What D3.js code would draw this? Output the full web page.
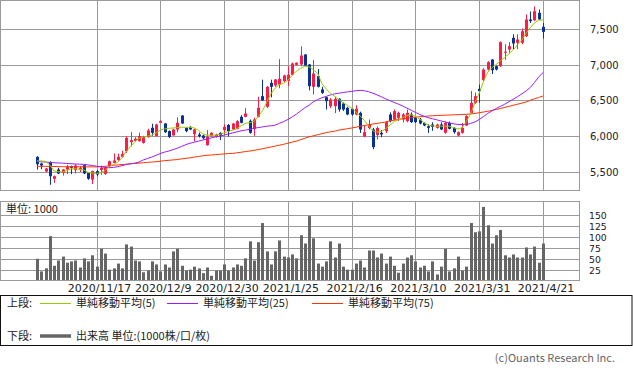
<!DOCTYPE html>
<html>
<head>
<meta charset="utf-8">
<script src="https://cdn.jsdelivr.net/npm/d3@7"></script>
<style>
body { margin: 0; background: #fff; }
svg { display: block; font-family: "Noto Sans CJK JP", "DejaVu Sans", sans-serif; }
.num { font-family: "DejaVu Sans", sans-serif; }
</style>
</head>
<body>
<div id="chart"></div>
<script>
// x axis labels (trading day index of each label)
const tickIdx = [14, 29, 44, 59, 74, 89, 104, 119]
const tickLabels = ["2020/11/17", "2020/12/9", "2020/12/30", "2021/1/25", "2021/2/16", "2021/3/10", "2021/3/31", "2021/4/21"]
const priceTicks = [5500, 6000, 6500, 7000, 7500]
const volTicks = [25, 50, 75, 100, 125, 150]

// daily candles, 2020/10/27 .. 2021/4/21
const opens = [5713,5620,5507,5638,5404,5535,5488,5535,5582,5526,5535,5596,5488,5394,5512,5527,5474,5582,5629,5667,
    5714,5793,5920,5939,5934,5911,5990,6123,6005,6193,6183,6076,6015,6099,6296,6122,6136,6033,6028,6014,
    5878,6005,6000,6052,6090,6164,6099,6108,6277,6277,6221,6108,6277,6568,6418,6756,6718,6732,6779,6784,
    6869,7009,7014,7155,7014,6700,6850,6662,6554,6427,6427,6530,6465,6404,6390,6310,6333,6000,6120,6099,
    6020,6052,6075,6310,6239,6263,6239,6216,6310,6263,6239,6192,6145,6169,6122,6169,6052,6192,6122,6014,
    6052,6155,6333,6474,6671,6793,6944,7084,6990,6990,7180,7225,7390,7320,7320,7413,7648,7638,7742,7545]
const highs = [5722,5630,5555,5652,5450,5560,5540,5600,5590,5610,5585,5610,5490,5520,5530,5590,5570,5660,5760,5760,
    5800,6005,6060,5990,6055,6010,6110,6180,6180,6230,6190,6085,6110,6270,6300,6130,6145,6110,6055,6020,
    6090,6060,6040,6060,6170,6175,6190,6230,6300,6400,6240,6265,6560,6800,6710,6800,6810,7090,6870,6990,
    7040,7045,7270,7160,7020,7080,6950,6700,6560,6540,6560,6540,6480,6420,6400,6440,6350,6150,6240,6120,
    6140,6090,6215,6340,6380,6350,6330,6380,6340,6280,6260,6200,6170,6200,6180,6200,6210,6210,6130,6070,
    6190,6300,6640,6620,6732,6960,7060,7090,7000,7340,7300,7330,7440,7440,7520,7720,7760,7830,7790,7600]
const lows = [5535,5540,5495,5320,5347,5470,5450,5470,5470,5480,5500,5470,5390,5330,5440,5460,5460,5560,5625,5660,
    5700,5770,5860,5930,5930,5900,5985,6010,6000,6190,6050,5980,6010,6060,6180,6060,6090,5930,5985,5960,
    5870,6000,5985,5950,6030,6000,6090,6100,6185,6270,6040,6010,6270,6500,6400,6550,6700,6680,6770,6710,
    6860,7000,6990,6990,6650,6590,6690,6600,6380,6400,6330,6350,6360,6300,6290,6300,6050,5990,6100,5820,
    5960,5990,6050,6200,6230,6220,6200,6200,6190,6190,6170,6145,6050,6080,6110,6090,6040,6100,6040,6000,
    6040,6150,6320,6460,6474,6780,6930,6880,6930,6980,7080,7180,7230,7230,7300,7400,7600,7625,7640,7380]
const closes = [5610,5592,5549,5441,5441,5479,5535,5573,5560,5592,5560,5479,5404,5512,5465,5560,5559,5652,5662,5714,
    5756,5981,5948,5967,6005,5995,6085,6052,6170,6216,6061,5995,6099,6193,6183,6075,6099,6099,6005,5976,
    5995,6052,6028,6014,6136,6075,6183,6216,6193,6324,6052,6240,6404,6507,6700,6700,6803,6812,6859,6869,
    7028,7038,7141,7000,6709,6887,6700,6615,6498,6521,6530,6380,6380,6310,6310,6390,6099,6061,6170,5850,
    6120,6030,6202,6216,6357,6333,6310,6333,6202,6202,6183,6155,6122,6136,6169,6099,6192,6108,6061,6061,
    6122,6286,6474,6568,6639,6943,7047,6934,6944,7328,7195,7272,7310,7366,7483,7648,7625,7765,7648,7474]

// moving averages as drawn
const ma5 = [5657,5655,5650,5600,5515,5505,5500,5520,5545,5545,5540,5530,5495,5485,5480,5490,5520,5580,5605,5640,
    5700,5790,5860,5925,5975,5990,6005,6020,6050,6090,6105,6115,6120,6125,6130,6130,6130,6120,6085,6035,
    6020,6015,6020,6030,6050,6070,6090,6110,6150,6185,6195,6210,6280,6360,6480,6600,6680,6730,6750,6790,
    6860,6920,6960,6990,6980,6940,6890,6745,6670,6610,6565,6520,6475,6440,6400,6345,6290,6225,6150,6080,
    6062,6070,6110,6160,6210,6235,6265,6295,6305,6285,6245,6195,6160,6150,6145,6145,6145,6145,6125,6105,
    6125,6215,6320,6480,6610,6775,6905,6970,7015,7065,7115,7165,7220,7290,7355,7455,7530,7600,7640,7640]
const ma25 = [5648,5645,5640,5635,5630,5628,5625,5620,5617,5613,5610,5607,5600,5590,5582,5575,5565,5560,5565,5575,
    5590,5605,5615,5625,5640,5670,5690,5710,5735,5760,5780,5795,5815,5835,5860,5885,5905,5920,5935,5950,
    5965,5980,5995,6005,6020,6035,6050,6065,6080,6090,6100,6115,6125,6135,6145,6150,6160,6185,6210,6240,
    6275,6315,6360,6405,6440,6490,6520,6545,6565,6585,6600,6610,6620,6628,6635,6645,6650,6645,6630,6610,
    6585,6560,6530,6505,6480,6455,6430,6400,6370,6340,6310,6285,6265,6250,6235,6220,6205,6190,6178,6170,
    6168,6168,6185,6205,6240,6280,6325,6360,6395,6425,6455,6490,6525,6560,6600,6640,6690,6760,6840,6900]
const ma75 = [5580,5580,5580,5578,5577,5576,5575,5575,5574,5574,5573,5573,5572,5572,5572,5575,5580,5585,5595,5600,
    5605,5610,5617,5620,5625,5630,5635,5640,5645,5652,5660,5665,5670,5675,5685,5692,5700,5710,5720,5728,
    5735,5740,5745,5750,5755,5760,5762,5770,5778,5788,5795,5805,5815,5828,5840,5852,5865,5877,5890,5905,
    5920,5935,5955,5975,5995,6010,6025,6040,6055,6065,6075,6090,6100,6110,6120,6130,6145,6155,6165,6175,
    6185,6195,6205,6220,6230,6240,6250,6258,6265,6272,6278,6283,6288,6292,6295,6298,6300,6303,6305,6308,
    6310,6312,6318,6325,6335,6345,6355,6368,6380,6395,6410,6425,6440,6455,6470,6485,6510,6530,6550,6570]

// volume, 1000 shares
const volumes = [51,22,29,103,35,47,56,42,45,47,31,52,45,59,33,74,63,26,29,40,
    29,84,79,47,45,20,24,45,38,22,38,31,68,74,35,24,26,33,29,18,
    31,12,24,24,38,24,31,38,35,52,91,47,89,133,68,38,68,93,56,54,
    61,52,105,86,149,98,40,33,45,91,54,86,33,26,26,40,47,31,70,70,
    54,63,40,56,35,19,40,54,59,45,31,35,22,45,15,33,74,22,29,56,
    24,33,133,112,114,170,128,86,105,117,59,54,61,54,54,77,61,79,42,86]

const width = 633, height = 374
const panelRight = 579
const upColor = "#ff1a47", downColor = "#0a3294", gridColor = "#9a9a9a"

let svg = d3.select("#chart")
    .append("svg")
    .attr("width", width)
    .attr("height", height)

let x = d3.scaleLinear().domain([0, 119]).range([37, 543])
let y = d3.scaleLinear().domain([5246.5, 7922.5]).range([190, 0])
let yVol = d3.scaleLinear().domain([0, 182]).range([281, 201.7])

let crisp = v => Math.floor(v) + 0.5
let col = i => Math.round(x(i))

// ---- upper panel: candles + moving averages
let upper = svg.append("g")

upper.selectAll(".hgrid")
    .data(priceTicks)
    .enter()
    .append("line")
    .attr("x1", 0).attr("x2", panelRight)
    .attr("y1", d => crisp(y(d))).attr("y2", d => crisp(y(d)))
    .attr("stroke", gridColor)

upper.selectAll(".vgrid")
    .data(tickIdx)
    .enter()
    .append("line")
    .attr("x1", d => col(d) + 0.5).attr("x2", d => col(d) + 0.5)
    .attr("y1", 0).attr("y2", 190)
    .attr("stroke", gridColor)

upper.append("rect")
    .attr("x", 0.5).attr("y", 0.5)
    .attr("width", panelRight).attr("height", 190)
    .attr("fill", "none")
    .attr("stroke", gridColor)

upper.selectAll(".plabel")
    .data(priceTicks)
    .enter()
    .append("text")
    .attr("class", "num")
    .attr("x", 590)
    .attr("y", d => y(d) + 3.5)
    .style("font-size", "10px")
    .attr("fill", "#222")
    .text(d => d3.format(",")(d))

let candles = d3.range(opens.length).map(i => ({
    i: i, o: opens[i], h: highs[i], l: lows[i], c: closes[i]
}))

let candleColor = d => d.c >= d.o ? upColor : downColor

upper.selectAll(".wick")
    .data(candles)
    .enter()
    .append("line")
    .attr("x1", d => col(d.i) + 0.5).attr("x2", d => col(d.i) + 0.5)
    .attr("y1", d => y(d.h)).attr("y2", d => y(d.l))
    .attr("stroke", candleColor)

upper.selectAll(".body")
    .data(candles)
    .enter()
    .append("rect")
    .attr("x", d => col(d.i) - 1)
    .attr("width", 3)
    .attr("y", d => y(Math.max(d.o, d.c)))
    .attr("height", d => Math.max(1, y(Math.min(d.o, d.c)) - y(Math.max(d.o, d.c))))
    .attr("fill", candleColor)

let maLine = d3.line()
    .x((d, i) => x(i))
    .y(d => y(d))

let maSeries = [
    { values: ma75, color: "#ff3300" },
    { values: ma25, color: "#9a1cff" },
    { values: ma5, color: "#99cc00" }
]

upper.selectAll(".ma")
    .data(maSeries)
    .enter()
    .append("path")
    .attr("d", d => maLine(d.values))
    .attr("fill", "none")
    .attr("stroke", d => d.color)
    .attr("stroke-width", 1)

// ---- volume panel
let lower = svg.append("g")

lower.selectAll(".hgrid")
    .data(volTicks)
    .enter()
    .append("line")
    .attr("x1", 0).attr("x2", panelRight)
    .attr("y1", d => crisp(yVol(d))).attr("y2", d => crisp(yVol(d)))
    .attr("stroke", gridColor)

lower.selectAll(".vgrid")
    .data(tickIdx)
    .enter()
    .append("line")
    .attr("x1", d => col(d) + 0.5).attr("x2", d => col(d) + 0.5)
    .attr("y1", 201.5).attr("y2", 280)
    .attr("stroke", gridColor)

lower.selectAll(".bar")
    .data(volumes)
    .enter()
    .append("rect")
    .attr("x", (d, i) => col(i) - 1)
    .attr("width", 3)
    .attr("y", d => yVol(d))
    .attr("height", d => 280 - yVol(d))
    .attr("fill", "#666")

lower.append("rect")
    .attr("x", 0.5).attr("y", 201.5)
    .attr("width", panelRight).attr("height", 79)
    .attr("fill", "none")
    .attr("stroke", gridColor)

lower.selectAll(".vlabel")
    .data(volTicks)
    .enter()
    .append("text")
    .attr("class", "num")
    .attr("x", 589)
    .attr("y", d => yVol(d) + 3.5)
    .style("font-size", "9.3px")
    .attr("fill", "#222")
    .text(d => d)

lower.append("text")
    .attr("x", 6).attr("y", 213)
    .style("font-size", "11px")
    .attr("fill", "#222")
    .text("単位: 1000")

lower.selectAll(".dlabel")
    .data(tickIdx)
    .enter()
    .append("text")
    .attr("class", "num")
    .attr("x", d => x(d) + 3)
    .attr("y", 292)
    .attr("text-anchor", "middle")
    .style("font-size", "11px")
    .attr("fill", "#222")
    .text((d, i) => tickLabels[i])

// ---- legend
let legend = svg.append("g")

legend.append("rect")
    .attr("x", 0.5).attr("y", 295.5)
    .attr("width", 631.5).attr("height", 50)
    .attr("fill", "none")
    .attr("stroke", "#111")

legend.append("text").attr("x", 7).attr("y", 307).style("font-size", "11px").attr("fill", "#222").text("上段:")
legend.append("text").attr("x", 7).attr("y", 340).style("font-size", "11px").attr("fill", "#222").text("下段:")

let legendItems = [
    { x: 40, label: "単純移動平均(5)", color: "#99cc00" },
    { x: 167, label: "単純移動平均(25)", color: "#9a1cff" },
    { x: 312, label: "単純移動平均(75)", color: "#ff3300" }
]

legend.selectAll(".lline")
    .data(legendItems)
    .enter()
    .append("line")
    .attr("x1", d => d.x).attr("x2", d => d.x + 31)
    .attr("y1", 303.5).attr("y2", 303.5)
    .attr("stroke", d => d.color)

legend.selectAll(".ltext")
    .data(legendItems)
    .enter()
    .append("text")
    .attr("x", d => d.x + 36)
    .attr("y", 307)
    .style("font-size", "11px")
    .attr("fill", "#222")
    .text(d => d.label)

legend.append("line")
    .attr("x1", 40).attr("x2", 71)
    .attr("y1", 336).attr("y2", 336)
    .attr("stroke", "#666")
    .attr("stroke-width", 3.5)

legend.append("text")
    .attr("x", 76).attr("y", 340)
    .style("font-size", "11px")
    .attr("fill", "#222")
    .text("出来高 単位:(1000株/口/枚)")

svg.append("text")
    .attr("x", 615).attr("y", 362)
    .attr("text-anchor", "end")
    .style("font-size", "11px")
    .attr("fill", "#666")
    .text("(c)Ouants Research Inc.")
</script>
</body>
</html>
